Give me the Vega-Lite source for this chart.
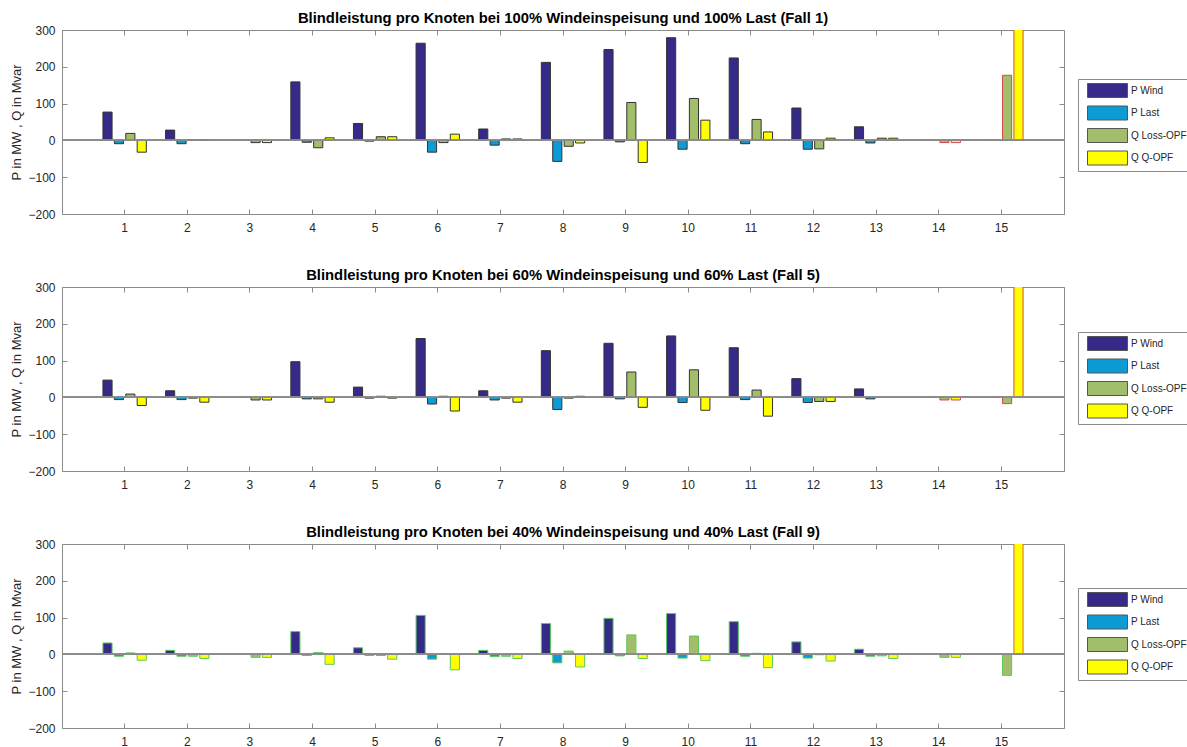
{
  "$schema": "https://vega.github.io/schema/vega-lite/v6.json",
  "background": "white",
  "padding": {"left": 10, "top": 11, "right": 0, "bottom": 0},
  "spacing": 35,
  "config": {
    "font": "Liberation Sans",
    "view": {"stroke": null},
    "axis": {"grid": false, "domainColor": "#8a8a8a", "tickColor": "#8a8a8a", "labelColor": "#262626", "labelFontSize": 12, "labelFont": "Liberation Sans", "titleFont": "Liberation Sans", "titleColor": "#262626", "titleFontWeight": "normal", "titleFontSize": 13},
    "title": {"font": "Liberation Sans", "fontSize": 14.8, "fontWeight": "bold", "color": "#000000", "offset": -2},
    "legend": {"title": null, "orient": "none", "legendX": 1016, "strokeColor": "#8a8a8a", "fillColor": "white", "padding": 4, "symbolType": "M-2.857,-1H2.857V1H-2.857Z", "symbolSize": 196, "symbolStrokeColor": "#555555", "symbolStrokeWidth": 1, "symbolOffset": 18, "labelOffset": 16, "rowPadding": 3.5, "labelFontSize": 10, "labelColor": "#262626", "labelFont": "Liberation Sans"}
  },
  "resolve": {"scale": {"color": "independent"}},
  "data": {"values": [
    {"fall": 1, "node": 1, "P_Wind": 77, "P_Last": -9, "Q_Loss-OPF": 19, "Q_Q-OPF": -32},
    {"fall": 1, "node": 2, "P_Wind": 28, "P_Last": -9, "Q_Loss-OPF": 2, "Q_Q-OPF": 2},
    {"fall": 1, "node": 3, "P_Wind": 0, "P_Last": 0, "Q_Loss-OPF": -6, "Q_Q-OPF": -6},
    {"fall": 1, "node": 4, "P_Wind": 159, "P_Last": -5, "Q_Loss-OPF": -20, "Q_Q-OPF": 7},
    {"fall": 1, "node": 5, "P_Wind": 46, "P_Last": -2, "Q_Loss-OPF": 10, "Q_Q-OPF": 10},
    {"fall": 1, "node": 6, "P_Wind": 264, "P_Last": -32, "Q_Loss-OPF": -6, "Q_Q-OPF": 17},
    {"fall": 1, "node": 7, "P_Wind": 31, "P_Last": -13, "Q_Loss-OPF": 4, "Q_Q-OPF": 4},
    {"fall": 1, "node": 8, "P_Wind": 212, "P_Last": -57, "Q_Loss-OPF": -16, "Q_Q-OPF": -7},
    {"fall": 1, "node": 9, "P_Wind": 247, "P_Last": -4, "Q_Loss-OPF": 103, "Q_Q-OPF": -60},
    {"fall": 1, "node": 10, "P_Wind": 279, "P_Last": -24, "Q_Loss-OPF": 114, "Q_Q-OPF": 55},
    {"fall": 1, "node": 11, "P_Wind": 224, "P_Last": -9, "Q_Loss-OPF": 57, "Q_Q-OPF": 23},
    {"fall": 1, "node": 12, "P_Wind": 88, "P_Last": -24, "Q_Loss-OPF": -23, "Q_Q-OPF": 6},
    {"fall": 1, "node": 13, "P_Wind": 37, "P_Last": -7, "Q_Loss-OPF": 6, "Q_Q-OPF": 6},
    {"fall": 1, "node": 14, "P_Wind": 0, "P_Last": 0, "Q_Loss-OPF": -6, "Q_Q-OPF": -6},
    {"fall": 1, "node": 15, "P_Wind": 0, "P_Last": 0, "Q_Loss-OPF": 177, "Q_Q-OPF": 900},
    {"fall": 5, "node": 1, "P_Wind": 47, "P_Last": -6, "Q_Loss-OPF": 9, "Q_Q-OPF": -22},
    {"fall": 5, "node": 2, "P_Wind": 18, "P_Last": -6, "Q_Loss-OPF": -2, "Q_Q-OPF": -13},
    {"fall": 5, "node": 3, "P_Wind": 0, "P_Last": 0, "Q_Loss-OPF": -7, "Q_Q-OPF": -7},
    {"fall": 5, "node": 4, "P_Wind": 97, "P_Last": -4, "Q_Loss-OPF": -4, "Q_Q-OPF": -13},
    {"fall": 5, "node": 5, "P_Wind": 28, "P_Last": -2, "Q_Loss-OPF": 3, "Q_Q-OPF": -2},
    {"fall": 5, "node": 6, "P_Wind": 160, "P_Last": -18, "Q_Loss-OPF": 3, "Q_Q-OPF": -37},
    {"fall": 5, "node": 7, "P_Wind": 18, "P_Last": -7, "Q_Loss-OPF": -2, "Q_Q-OPF": -13},
    {"fall": 5, "node": 8, "P_Wind": 127, "P_Last": -33, "Q_Loss-OPF": -2, "Q_Q-OPF": 3},
    {"fall": 5, "node": 9, "P_Wind": 147, "P_Last": -4, "Q_Loss-OPF": 69, "Q_Q-OPF": -27},
    {"fall": 5, "node": 10, "P_Wind": 167, "P_Last": -14, "Q_Loss-OPF": 75, "Q_Q-OPF": -35},
    {"fall": 5, "node": 11, "P_Wind": 135, "P_Last": -6, "Q_Loss-OPF": 20, "Q_Q-OPF": -51},
    {"fall": 5, "node": 12, "P_Wind": 51, "P_Last": -14, "Q_Loss-OPF": -11, "Q_Q-OPF": -11},
    {"fall": 5, "node": 13, "P_Wind": 23, "P_Last": -4, "Q_Loss-OPF": 0, "Q_Q-OPF": 0},
    {"fall": 5, "node": 14, "P_Wind": 0, "P_Last": 0, "Q_Loss-OPF": -7, "Q_Q-OPF": -7},
    {"fall": 5, "node": 15, "P_Wind": 0, "P_Last": 0, "Q_Loss-OPF": -17, "Q_Q-OPF": 900},
    {"fall": 9, "node": 1, "P_Wind": 31, "P_Last": -5, "Q_Loss-OPF": 4, "Q_Q-OPF": -16},
    {"fall": 9, "node": 2, "P_Wind": 11, "P_Last": -5, "Q_Loss-OPF": -5, "Q_Q-OPF": -11},
    {"fall": 9, "node": 3, "P_Wind": 0, "P_Last": 0, "Q_Loss-OPF": -8, "Q_Q-OPF": -8},
    {"fall": 9, "node": 4, "P_Wind": 62, "P_Last": -3, "Q_Loss-OPF": 5, "Q_Q-OPF": -27},
    {"fall": 9, "node": 5, "P_Wind": 18, "P_Last": -3, "Q_Loss-OPF": -3, "Q_Q-OPF": -13},
    {"fall": 9, "node": 6, "P_Wind": 106, "P_Last": -13, "Q_Loss-OPF": 2, "Q_Q-OPF": -42},
    {"fall": 9, "node": 7, "P_Wind": 11, "P_Last": -6, "Q_Loss-OPF": -5, "Q_Q-OPF": -11},
    {"fall": 9, "node": 8, "P_Wind": 84, "P_Last": -23, "Q_Loss-OPF": 9, "Q_Q-OPF": -34},
    {"fall": 9, "node": 9, "P_Wind": 98, "P_Last": -4, "Q_Loss-OPF": 53, "Q_Q-OPF": -11},
    {"fall": 9, "node": 10, "P_Wind": 111, "P_Last": -10, "Q_Loss-OPF": 50, "Q_Q-OPF": -17},
    {"fall": 9, "node": 11, "P_Wind": 89, "P_Last": -5, "Q_Loss-OPF": 3, "Q_Q-OPF": -36},
    {"fall": 9, "node": 12, "P_Wind": 34, "P_Last": -10, "Q_Loss-OPF": -1, "Q_Q-OPF": -18},
    {"fall": 9, "node": 13, "P_Wind": 14, "P_Last": -5, "Q_Loss-OPF": -4, "Q_Q-OPF": -11},
    {"fall": 9, "node": 14, "P_Wind": 0, "P_Last": 0, "Q_Loss-OPF": -8, "Q_Q-OPF": -8},
    {"fall": 9, "node": 15, "P_Wind": 0, "P_Last": 0, "Q_Loss-OPF": -57, "Q_Q-OPF": 900}
  ]},
  "vconcat": [
    {
      "title": "Blindleistung pro Knoten bei 100% Windeinspeisung und 100% Last (Fall 1)",
      "width": 1002, "height": 184,
      "transform": [{"filter": "datum.fall == 1"}, {"fold": ["P_Wind", "P_Last", "Q_Loss-OPF", "Q_Q-OPF"], "as": ["series", "value"]}],
      "resolve": {"axis": {"x": "independent", "y": "independent"}},
      "layer": [
        {"mark": {"type": "bar", "clip": true, "strokeWidth": 1},
         "encoding": {
          "x": {"field": "node", "type": "ordinal", "sort": "ascending", "scale": {"paddingInner": 0, "paddingOuter": 0.5}, "axis": {"orient": "bottom", "title": null, "labelAngle": 0, "tickSize": -5, "labelPadding": 13}},
          "xOffset": {"field": "series", "type": "nominal", "sort": ["P_Wind", "P_Last", "Q_Loss-OPF", "Q_Q-OPF"], "scale": {"paddingInner": 0.2, "paddingOuter": 0.845}},
          "y": {"field": "value", "type": "quantitative", "scale": {"domain": [-200, 300], "nice": false, "zero": false}, "axis": {"orient": "left", "values": [-200, -100, 0, 100, 200, 300], "tickSize": -5, "labelPadding": 12, "title": "P in MW , Q in Mvar", "titlePadding": 4}},
          "color": {"field": "series", "type": "nominal", "sort": ["P_Wind", "P_Last", "Q_Loss-OPF", "Q_Q-OPF"], "scale": {"domain": ["P_Wind", "P_Last", "Q_Loss-OPF", "Q_Q-OPF"], "range": ["#352A87", "#0C9CD5", "#A3BE6B", "#FFFF00"]}, "legend": {"legendY": 49, "labelExpr": "replace(datum.label, '_', ' ')"}},
          "stroke": {"condition": {"test": "datum.node >= 14", "value": "#d8474a"}, "value": "#333333"}
         }},
        {"mark": {"type": "bar", "opacity": 0, "clip": true},
         "encoding": {
          "x": {"field": "node", "type": "ordinal", "sort": "ascending", "axis": {"orient": "top", "title": null, "labels": false, "tickSize": -5}},
          "xOffset": {"field": "series", "type": "nominal", "sort": ["P_Wind", "P_Last", "Q_Loss-OPF", "Q_Q-OPF"]},
          "y": {"field": "value", "type": "quantitative", "axis": {"orient": "right", "values": [-200, -100, 0, 100, 200, 300], "labels": false, "title": null, "tickSize": -5}}
         }},
        {"mark": {"type": "rule", "color": "#8a8a8a", "strokeWidth": 1}, "encoding": {"y": {"datum": 0, "axis": null}}}
      ]
    },
    {
      "title": "Blindleistung pro Knoten bei 60% Windeinspeisung und 60% Last (Fall 5)",
      "width": 1002, "height": 184,
      "transform": [{"filter": "datum.fall == 5"}, {"fold": ["P_Wind", "P_Last", "Q_Loss-OPF", "Q_Q-OPF"], "as": ["series", "value"]}],
      "resolve": {"axis": {"x": "independent", "y": "independent"}},
      "layer": [
        {"mark": {"type": "bar", "clip": true, "strokeWidth": 1},
         "encoding": {
          "x": {"field": "node", "type": "ordinal", "sort": "ascending", "scale": {"paddingInner": 0, "paddingOuter": 0.5}, "axis": {"orient": "bottom", "title": null, "labelAngle": 0, "tickSize": -5, "labelPadding": 13}},
          "xOffset": {"field": "series", "type": "nominal", "sort": ["P_Wind", "P_Last", "Q_Loss-OPF", "Q_Q-OPF"], "scale": {"paddingInner": 0.2, "paddingOuter": 0.845}},
          "y": {"field": "value", "type": "quantitative", "scale": {"domain": [-200, 300], "nice": false, "zero": false}, "axis": {"orient": "left", "values": [-200, -100, 0, 100, 200, 300], "tickSize": -5, "labelPadding": 12, "title": "P in MW , Q in Mvar", "titlePadding": 4}},
          "color": {"field": "series", "type": "nominal", "sort": ["P_Wind", "P_Last", "Q_Loss-OPF", "Q_Q-OPF"], "scale": {"domain": ["P_Wind", "P_Last", "Q_Loss-OPF", "Q_Q-OPF"], "range": ["#352A87", "#0C9CD5", "#A3BE6B", "#FFFF00"]}, "legend": {"legendY": 45, "labelExpr": "replace(datum.label, '_', ' ')"}},
          "stroke": {"condition": {"test": "datum.node >= 14", "value": "#d8474a"}, "value": "#333333"}
         }},
        {"mark": {"type": "bar", "opacity": 0, "clip": true},
         "encoding": {
          "x": {"field": "node", "type": "ordinal", "sort": "ascending", "axis": {"orient": "top", "title": null, "labels": false, "tickSize": -5}},
          "xOffset": {"field": "series", "type": "nominal", "sort": ["P_Wind", "P_Last", "Q_Loss-OPF", "Q_Q-OPF"]},
          "y": {"field": "value", "type": "quantitative", "axis": {"orient": "right", "values": [-200, -100, 0, 100, 200, 300], "labels": false, "title": null, "tickSize": -5}}
         }},
        {"mark": {"type": "rule", "color": "#8a8a8a", "strokeWidth": 1}, "encoding": {"y": {"datum": 0, "axis": null}}}
      ]
    },
    {
      "title": "Blindleistung pro Knoten bei 40% Windeinspeisung und 40% Last (Fall 9)",
      "width": 1002, "height": 184,
      "transform": [{"filter": "datum.fall == 9"}, {"fold": ["P_Wind", "P_Last", "Q_Loss-OPF", "Q_Q-OPF"], "as": ["series", "value"]}],
      "resolve": {"axis": {"x": "independent", "y": "independent"}},
      "layer": [
        {"mark": {"type": "bar", "clip": true, "strokeWidth": 1},
         "encoding": {
          "x": {"field": "node", "type": "ordinal", "sort": "ascending", "scale": {"paddingInner": 0, "paddingOuter": 0.5}, "axis": {"orient": "bottom", "title": null, "labelAngle": 0, "tickSize": -5, "labelPadding": 13}},
          "xOffset": {"field": "series", "type": "nominal", "sort": ["P_Wind", "P_Last", "Q_Loss-OPF", "Q_Q-OPF"], "scale": {"paddingInner": 0.2, "paddingOuter": 0.845}},
          "y": {"field": "value", "type": "quantitative", "scale": {"domain": [-200, 300], "nice": false, "zero": false}, "axis": {"orient": "left", "values": [-200, -100, 0, 100, 200, 300], "tickSize": -5, "labelPadding": 12, "title": "P in MW , Q in Mvar", "titlePadding": 4}},
          "color": {"field": "series", "type": "nominal", "sort": ["P_Wind", "P_Last", "Q_Loss-OPF", "Q_Q-OPF"], "scale": {"domain": ["P_Wind", "P_Last", "Q_Loss-OPF", "Q_Q-OPF"], "range": ["#352A87", "#0C9CD5", "#A3BE6B", "#FFFF00"]}, "legend": {"legendY": 44, "labelExpr": "replace(datum.label, '_', ' ')"}},
          "stroke": {"condition": {"test": "datum.node == 15 && datum.series == 'Q_Q-OPF'", "value": "#e0604a"}, "value": "#5cc85c"}
         }},
        {"mark": {"type": "bar", "opacity": 0, "clip": true},
         "encoding": {
          "x": {"field": "node", "type": "ordinal", "sort": "ascending", "axis": {"orient": "top", "title": null, "labels": false, "tickSize": -5}},
          "xOffset": {"field": "series", "type": "nominal", "sort": ["P_Wind", "P_Last", "Q_Loss-OPF", "Q_Q-OPF"]},
          "y": {"field": "value", "type": "quantitative", "axis": {"orient": "right", "values": [-200, -100, 0, 100, 200, 300], "labels": false, "title": null, "tickSize": -5}}
         }},
        {"mark": {"type": "rule", "color": "#8a8a8a", "strokeWidth": 1}, "encoding": {"y": {"datum": 0, "axis": null}}}
      ]
    }
  ]
}
